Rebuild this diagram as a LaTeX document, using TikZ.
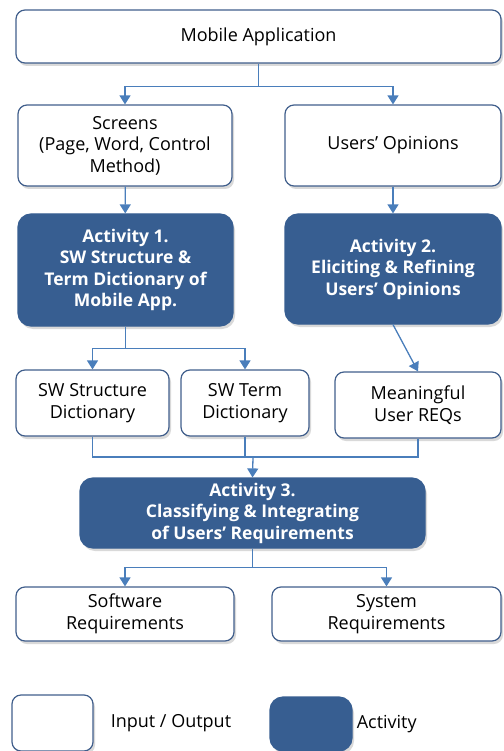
\documentclass[tikz,border=0pt]{standalone}
\usepackage{fontspec}
\setmainfont{Open Sans}
\usetikzlibrary{arrows.meta,shadows,positioning}
\definecolor{actblue}{RGB}{55,94,145}
\definecolor{linkblue}{RGB}{74,126,187}
\definecolor{boxline}{RGB}{65,95,140}

\tikzset{
    iobox/.style={draw=boxline, line width=1.2pt, fill=white, rounded corners=9pt, inner sep=0pt,
        align=center, font=\fontsize{18}{21.5}\selectfont,
        drop shadow={shadow xshift=2pt, shadow yshift=-3pt, opacity=.3}},
    actbox/.style={draw=actblue, line width=1.2pt, fill=actblue, text=white, rounded corners=13pt, inner sep=0pt,
        align=center, font=\fontsize{17.5}{21.5}\selectfont\bfseries,
        drop shadow={shadow xshift=2pt, shadow yshift=-3pt, opacity=.3}},
    link/.style={draw=linkblue, line width=1.3pt},
    tip/.style={-{Triangle[width=11pt,length=9pt]}}
}

\begin{document}
\begin{tikzpicture}[x={(1pt,0)}, y={(0,-1pt)}]
    \useasboundingbox (0,0) rectangle (503,751);

    % inputs
    \node (mobile) [iobox, minimum width=485pt, minimum height=53pt] at (258.5,36.5) {Mobile Application};
    \node (screens) [iobox, minimum width=214pt, minimum height=81pt] at (125,145.5) {Screens\\(Page, Word, Control\\Method)};
    \node (opinions) [iobox, minimum width=216pt, minimum height=81pt] at (393,145.5) {Users’ Opinions};

    % activities 1 and 2
    \node (act1) [actbox, minimum width=215pt, minimum height=112pt] at (125.5,270) {Activity 1.\\SW Structure \&\\Term Dictionary of\\Mobile App.};
    \node (act2) [actbox, minimum width=216pt, minimum height=110pt] at (393,269) {Activity 2.\\Eliciting \& Refining\\Users’ Opinions};

    % dictionaries and REQs
    \node (swstruct) [iobox, minimum width=153pt, minimum height=66pt] at (92.5,403) {SW Structure\\Dictionary};
    \node (swterm) [iobox, minimum width=128pt, minimum height=66pt] at (245,403) {SW Term\\Dictionary};
    \node (meaning) [iobox, minimum width=166pt, minimum height=66pt] at (418,405) {Meaningful\\User REQs};

    % activity 3 and outputs
    \node (act3) [actbox, minimum width=345pt, minimum height=70pt] at (252.5,513) {Activity 3.\\Classifying \& Integrating\\of Users’ Requirements};
    \node (softreq) [iobox, minimum width=218pt, minimum height=54pt] at (125,614) {Software\\Requirements};
    \node (sysreq) [iobox, minimum width=229pt, minimum height=54pt] at (386.5,614) {System\\Requirements};

    % legend
    \node (legio) [iobox, minimum width=81pt, minimum height=56pt] at (52.5,723) {};
    \node (legiotext) [right=17pt of legio, font=\fontsize{18}{21.5}\selectfont, inner sep=0pt] {Input / Output};
    \node (legact) [actbox, minimum width=82pt, minimum height=54pt] at (311,724) {};
    \node (legacttext) [right=4pt of legact, font=\fontsize{18}{21.5}\selectfont, inner sep=0pt] {Activity};

    % connectors
    \path (mobile.south) ++(0,23) coordinate (split1);
    \draw [link] (mobile.south) -- (split1);
    \draw [link, tip] (split1) -| (screens.north);
    \draw [link, tip] (split1) -| (opinions.north);

    \draw [link, tip] (screens) -- (act1);
    \draw [link, tip] (opinions) -- (act2);

    \path (act1.south) ++(0,22) coordinate (split2);
    \draw [link] (act1.south) -- (split2);
    \draw [link, tip] (split2) -| (swstruct.north);
    \draw [link, tip] (split2) -| (swterm.north);
    \draw [link, tip] (act2.south) -- (meaning.north);

    \coordinate (join) at (253,457);
    \draw [link] (swstruct.south) |- (join);
    \draw [link] (swterm.south) |- (join);
    \draw [link] (meaning.south) |- (join);
    \draw [link, tip] (join) -- (act3.north);

    \path (act3.south) ++(0,19) coordinate (split3);
    \draw [link] (act3.south) -- (split3);
    \draw [link, tip] (split3) -| (softreq.north);
    \draw [link, tip] (split3) -| (sysreq.north);
\end{tikzpicture}
\end{document}
